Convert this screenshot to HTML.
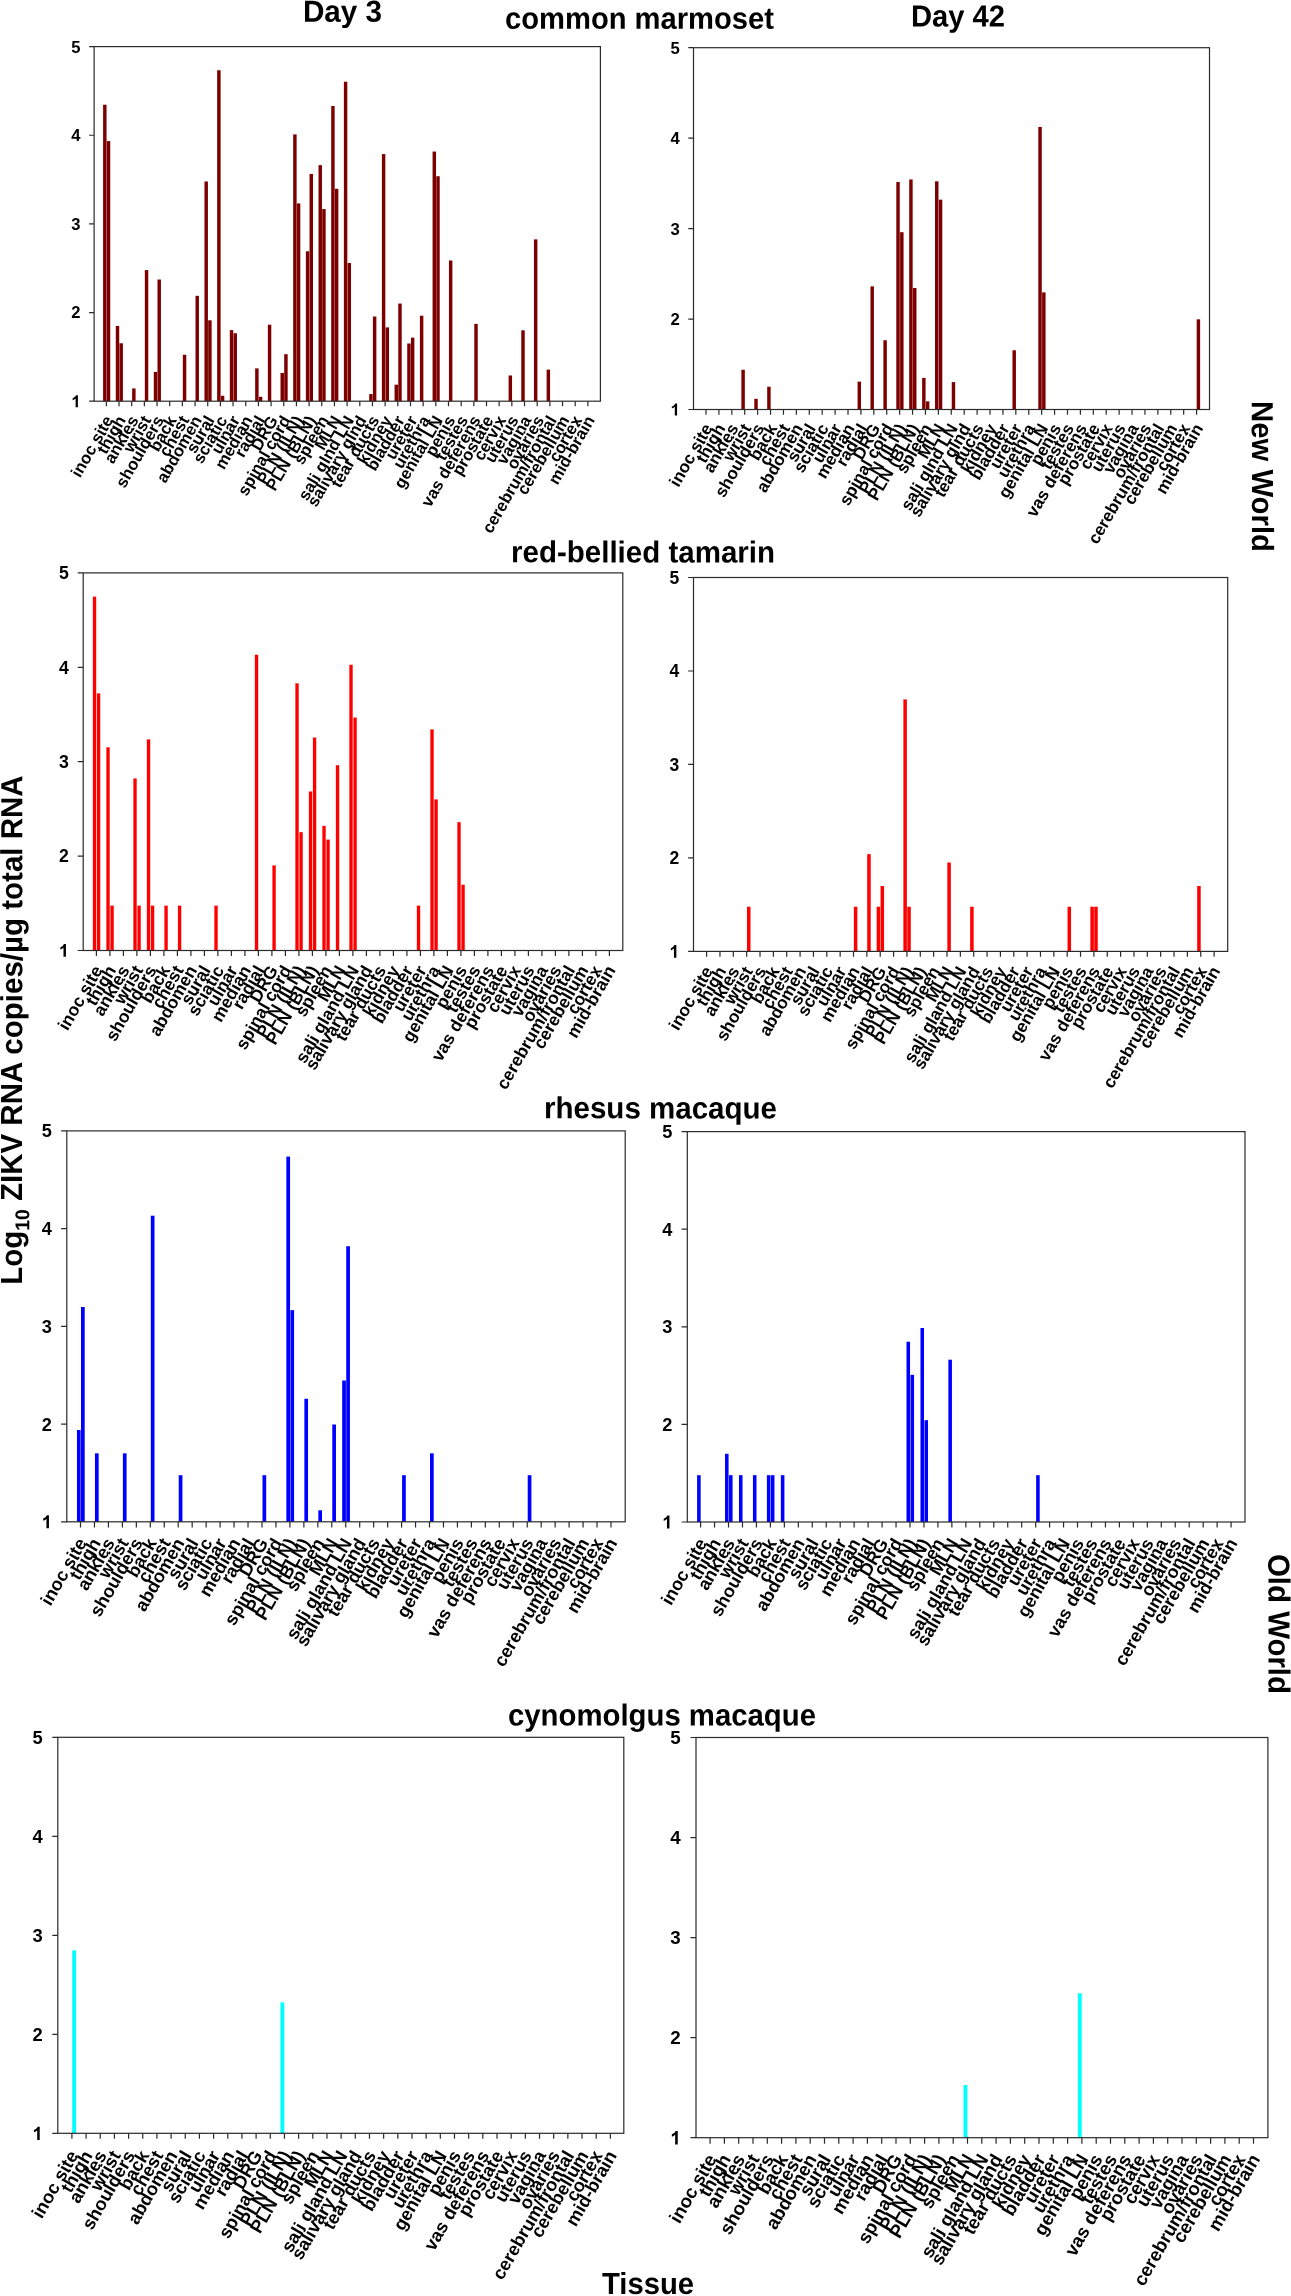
<!DOCTYPE html>
<html><head><meta charset="utf-8"><title>ZIKV tissue RNA</title>
<style>html,body{margin:0;padding:0;background:#fff;}svg{display:block;}#fig{width:1291px;height:2296px;will-change:transform;}</style>
</head><body>
<div id="fig">
<svg width="1291" height="2296" viewBox="0 0 1291 2296" font-family="'Liberation Sans', sans-serif">
<g id="panel1">
<g fill="#7d0000">
<rect x="103.1" y="104.72" width="3.45" height="296.48"/>
<rect x="106.8" y="141.1" width="3.45" height="260.1"/>
<rect x="115.77" y="325.93" width="3.45" height="75.27"/>
<rect x="119.47" y="343.28" width="3.45" height="57.92"/>
<rect x="132.14" y="388.45" width="3.45" height="12.75"/>
<rect x="144.82" y="270.11" width="3.45" height="131.09"/>
<rect x="153.79" y="371.93" width="3.45" height="29.27"/>
<rect x="157.49" y="279.52" width="3.45" height="121.68"/>
<rect x="182.83" y="354.78" width="3.45" height="46.42"/>
<rect x="195.5" y="295.82" width="3.45" height="105.38"/>
<rect x="204.48" y="181.46" width="3.45" height="219.74"/>
<rect x="208.18" y="320.29" width="3.45" height="80.91"/>
<rect x="217.15" y="70.23" width="3.45" height="330.97"/>
<rect x="220.85" y="395.76" width="3.45" height="5.44"/>
<rect x="229.82" y="330.11" width="3.45" height="71.09"/>
<rect x="233.52" y="333.25" width="3.45" height="67.95"/>
<rect x="255.16" y="368.37" width="3.45" height="32.83"/>
<rect x="258.86" y="396.81" width="3.45" height="4.39"/>
<rect x="267.84" y="324.68" width="3.45" height="76.52"/>
<rect x="280.51" y="372.97" width="3.45" height="28.23"/>
<rect x="284.21" y="354.16" width="3.45" height="47.04"/>
<rect x="293.18" y="134.41" width="3.45" height="266.79"/>
<rect x="296.88" y="203.41" width="3.45" height="197.79"/>
<rect x="305.85" y="251.29" width="3.45" height="149.91"/>
<rect x="309.55" y="173.93" width="3.45" height="227.27"/>
<rect x="318.52" y="165.15" width="3.45" height="236.05"/>
<rect x="322.22" y="209.06" width="3.45" height="192.14"/>
<rect x="331.2" y="105.98" width="3.45" height="295.22"/>
<rect x="334.9" y="188.77" width="3.45" height="212.43"/>
<rect x="343.87" y="81.73" width="3.45" height="319.47"/>
<rect x="347.57" y="263" width="3.45" height="138.2"/>
<rect x="369.21" y="394.09" width="3.45" height="7.11"/>
<rect x="372.91" y="316.52" width="3.45" height="84.68"/>
<rect x="381.88" y="154.07" width="3.45" height="247.13"/>
<rect x="385.58" y="327.39" width="3.45" height="73.81"/>
<rect x="394.56" y="384.68" width="3.45" height="16.52"/>
<rect x="398.26" y="303.56" width="3.45" height="97.64"/>
<rect x="407.23" y="343.49" width="3.45" height="57.71"/>
<rect x="410.93" y="337.64" width="3.45" height="63.56"/>
<rect x="419.9" y="315.69" width="3.45" height="85.51"/>
<rect x="432.57" y="151.56" width="3.45" height="249.64"/>
<rect x="436.27" y="176.23" width="3.45" height="224.97"/>
<rect x="448.94" y="260.49" width="3.45" height="140.71"/>
<rect x="474.29" y="323.84" width="3.45" height="77.36"/>
<rect x="508.6" y="375.48" width="3.45" height="25.72"/>
<rect x="521.28" y="330.32" width="3.45" height="70.88"/>
<rect x="533.95" y="239.37" width="3.45" height="161.83"/>
<rect x="546.62" y="369.63" width="3.45" height="31.57"/>
</g>
<rect x="94.1" y="46.6" width="506.3" height="354.6" fill="none" stroke="#2a2a2a" stroke-width="1.2"/>
<path d="M89.1 401.2h5M89.1 312.55h5M89.1 223.9h5M89.1 135.25h5M89.1 46.6h5M106.35 401.2v5M119.02 401.2v5M131.69 401.2v5M144.37 401.2v5M157.04 401.2v5M169.71 401.2v5M182.38 401.2v5M195.05 401.2v5M207.73 401.2v5M220.4 401.2v5M233.07 401.2v5M245.74 401.2v5M258.41 401.2v5M271.09 401.2v5M283.76 401.2v5M296.43 401.2v5M309.1 401.2v5M321.77 401.2v5M334.45 401.2v5M347.12 401.2v5M359.79 401.2v5M372.46 401.2v5M385.13 401.2v5M397.81 401.2v5M410.48 401.2v5M423.15 401.2v5M435.82 401.2v5M448.49 401.2v5M461.17 401.2v5M473.84 401.2v5M486.51 401.2v5M499.18 401.2v5M511.85 401.2v5M524.53 401.2v5M537.2 401.2v5M549.87 401.2v5M562.54 401.2v5M575.21 401.2v5M587.89 401.2v5" stroke="#2a2a2a" stroke-width="1.2" fill="none"/>
<g font-size="16.6" font-weight="bold" text-anchor="end" fill="#000">
<path transform="translate(71.37 407.14) scale(0.00811 -0.00811)" d="M806 0H525V1059Q371 915 162 846V1101Q272 1137 401 1237.5Q530 1338 578 1472H806Z"/>
<text x="80.6" y="318.49">2</text>
<text x="80.6" y="229.84">3</text>
<text x="80.6" y="141.19">4</text>
<text x="80.6" y="52.54">5</text>
</g>
<g font-size="16.65" font-weight="bold" text-anchor="end" fill="#000" stroke="#000" stroke-width="0">
<text transform="translate(113.75 420) rotate(-60)">inoc site</text>
<text transform="translate(126.42 420) rotate(-60)">thigh</text>
<text transform="translate(139.09 420) rotate(-60)">ankles</text>
<text transform="translate(151.77 420) rotate(-60)">wrist</text>
<text transform="translate(164.44 420) rotate(-60)">shoulders</text>
<text transform="translate(177.11 420) rotate(-60)">back</text>
<text transform="translate(189.78 420) rotate(-60)">chest</text>
<text transform="translate(202.45 420) rotate(-60)">abdomen</text>
<text transform="translate(215.13 420) rotate(-60)">sural</text>
<text transform="translate(227.8 420) rotate(-60)">sciatic</text>
<text transform="translate(240.47 420) rotate(-60)">ulnar</text>
<text transform="translate(253.14 420) rotate(-60)">median</text>
<text transform="translate(265.81 420) rotate(-60)">radial</text>
<text transform="translate(278.49 420) rotate(-60)">DRG</text>
<text transform="translate(291.16 420) rotate(-60)">spinal cord</text>
<text transform="translate(303.83 420) rotate(-60)">PLN (ILN)</text>
<text transform="translate(316.5 420) rotate(-60)">PLN (BLN)</text>
<text transform="translate(329.17 420) rotate(-60)">spleen</text>
<text transform="translate(341.85 420) rotate(-60)">MLN</text>
<text transform="translate(354.52 420) rotate(-60)">sali glnd LN</text>
<text transform="translate(367.19 420) rotate(-60)">salivary glnd</text>
<text transform="translate(379.86 420) rotate(-60)">tear ducts</text>
<text transform="translate(392.53 420) rotate(-60)">kidney</text>
<text transform="translate(405.21 420) rotate(-60)">bladder</text>
<text transform="translate(417.88 420) rotate(-60)">ureter</text>
<text transform="translate(430.55 420) rotate(-60)">urethra</text>
<text transform="translate(443.22 420) rotate(-60)">genital LN</text>
<text transform="translate(455.89 420) rotate(-60)">penis</text>
<text transform="translate(468.57 420) rotate(-60)">testes</text>
<text transform="translate(481.24 420) rotate(-60)">vas deferens</text>
<text transform="translate(493.91 420) rotate(-60)">prostate</text>
<text transform="translate(506.58 420) rotate(-60)">cervix</text>
<text transform="translate(519.25 420) rotate(-60)">uterus</text>
<text transform="translate(531.93 420) rotate(-60)">vagina</text>
<text transform="translate(544.6 420) rotate(-60)">ovaries</text>
<text transform="translate(557.27 420) rotate(-60)">cerebrum/frontal</text>
<text transform="translate(569.94 420) rotate(-60)">cerebellum</text>
<text transform="translate(582.61 420) rotate(-60)">cortex</text>
<text transform="translate(595.29 420) rotate(-60)">mid-brain</text>
</g>
</g>
<g id="panel2">
<g fill="#7d0000">
<rect x="741.38" y="369.76" width="3.45" height="39.74"/>
<rect x="754.29" y="398.81" width="3.45" height="10.69"/>
<rect x="767.2" y="386.73" width="3.45" height="22.77"/>
<rect x="857.57" y="381.62" width="3.45" height="27.88"/>
<rect x="870.48" y="286.34" width="3.45" height="123.16"/>
<rect x="883.39" y="340.25" width="3.45" height="69.25"/>
<rect x="896.3" y="182.01" width="3.45" height="227.49"/>
<rect x="900.1" y="232.2" width="3.45" height="177.3"/>
<rect x="909.21" y="179.45" width="3.45" height="230.05"/>
<rect x="913.01" y="287.97" width="3.45" height="121.53"/>
<rect x="922.12" y="377.9" width="3.45" height="31.6"/>
<rect x="925.92" y="401.37" width="3.45" height="8.13"/>
<rect x="935.03" y="181.31" width="3.45" height="228.19"/>
<rect x="938.83" y="199.67" width="3.45" height="209.83"/>
<rect x="951.74" y="382.08" width="3.45" height="27.42"/>
<rect x="1012.49" y="350.25" width="3.45" height="59.25"/>
<rect x="1038.31" y="126.94" width="3.45" height="282.56"/>
<rect x="1042.11" y="292.39" width="3.45" height="117.11"/>
<rect x="1196.68" y="319.34" width="3.45" height="90.16"/>
</g>
<rect x="693.5" y="47.7" width="516" height="361.8" fill="none" stroke="#2a2a2a" stroke-width="1.2"/>
<path d="M688.3 409.5h5.2M688.3 319.05h5.2M688.3 228.6h5.2M688.3 138.15h5.2M688.3 47.7h5.2M706 409.5v5.2M718.91 409.5v5.2M731.82 409.5v5.2M744.73 409.5v5.2M757.64 409.5v5.2M770.55 409.5v5.2M783.46 409.5v5.2M796.37 409.5v5.2M809.28 409.5v5.2M822.19 409.5v5.2M835.1 409.5v5.2M848.01 409.5v5.2M860.92 409.5v5.2M873.83 409.5v5.2M886.74 409.5v5.2M899.65 409.5v5.2M912.56 409.5v5.2M925.47 409.5v5.2M938.38 409.5v5.2M951.29 409.5v5.2M964.2 409.5v5.2M977.11 409.5v5.2M990.02 409.5v5.2M1002.93 409.5v5.2M1015.84 409.5v5.2M1028.75 409.5v5.2M1041.66 409.5v5.2M1054.57 409.5v5.2M1067.48 409.5v5.2M1080.39 409.5v5.2M1093.3 409.5v5.2M1106.21 409.5v5.2M1119.12 409.5v5.2M1132.03 409.5v5.2M1144.94 409.5v5.2M1157.85 409.5v5.2M1170.76 409.5v5.2M1183.67 409.5v5.2M1196.58 409.5v5.2" stroke="#2a2a2a" stroke-width="1.2" fill="none"/>
<g font-size="16.7" font-weight="bold" text-anchor="end" fill="#000">
<path transform="translate(670.51 415.48) scale(0.00815 -0.00815)" d="M806 0H525V1059Q371 915 162 846V1101Q272 1137 401 1237.5Q530 1338 578 1472H806Z"/>
<text x="679.8" y="325.03">2</text>
<text x="679.8" y="234.58">3</text>
<text x="679.8" y="144.13">4</text>
<text x="679.8" y="53.68">5</text>
</g>
<g font-size="17.05" font-weight="bold" text-anchor="end" fill="#000" stroke="#000" stroke-width="0">
<text transform="translate(713.1 428.1) rotate(-60)">inoc site</text>
<text transform="translate(726.01 428.1) rotate(-60)">thigh</text>
<text transform="translate(738.92 428.1) rotate(-60)">ankles</text>
<text transform="translate(751.83 428.1) rotate(-60)">wrist</text>
<text transform="translate(764.74 428.1) rotate(-60)">shoulders</text>
<text transform="translate(777.65 428.1) rotate(-60)">back</text>
<text transform="translate(790.56 428.1) rotate(-60)">chest</text>
<text transform="translate(803.47 428.1) rotate(-60)">abdomen</text>
<text transform="translate(816.38 428.1) rotate(-60)">sural</text>
<text transform="translate(829.29 428.1) rotate(-60)">sciatic</text>
<text transform="translate(842.2 428.1) rotate(-60)">ulnar</text>
<text transform="translate(855.11 428.1) rotate(-60)">median</text>
<text transform="translate(868.02 428.1) rotate(-60)">radial</text>
<text transform="translate(880.93 428.1) rotate(-60)">DRG</text>
<text transform="translate(893.84 428.1) rotate(-60)">spinal cord</text>
<text transform="translate(906.75 428.1) rotate(-60)">PLN (ILN)</text>
<text transform="translate(919.66 428.1) rotate(-60)">PLN (BLN)</text>
<text transform="translate(932.57 428.1) rotate(-60)">spleen</text>
<text transform="translate(945.48 428.1) rotate(-60)">MLN</text>
<text transform="translate(958.39 428.1) rotate(-60)">sali glnd LN</text>
<text transform="translate(971.3 428.1) rotate(-60)">salivary glnd</text>
<text transform="translate(984.21 428.1) rotate(-60)">tear ducts</text>
<text transform="translate(997.12 428.1) rotate(-60)">kidney</text>
<text transform="translate(1010.03 428.1) rotate(-60)">bladder</text>
<text transform="translate(1022.94 428.1) rotate(-60)">ureter</text>
<text transform="translate(1035.85 428.1) rotate(-60)">urethra</text>
<text transform="translate(1048.76 428.1) rotate(-60)">genital LN</text>
<text transform="translate(1061.67 428.1) rotate(-60)">penis</text>
<text transform="translate(1074.58 428.1) rotate(-60)">testes</text>
<text transform="translate(1087.49 428.1) rotate(-60)">vas deferens</text>
<text transform="translate(1100.4 428.1) rotate(-60)">prostate</text>
<text transform="translate(1113.31 428.1) rotate(-60)">cervix</text>
<text transform="translate(1126.22 428.1) rotate(-60)">uterus</text>
<text transform="translate(1139.13 428.1) rotate(-60)">vagina</text>
<text transform="translate(1152.04 428.1) rotate(-60)">ovaries</text>
<text transform="translate(1164.95 428.1) rotate(-60)">cerebrum/frontal</text>
<text transform="translate(1177.86 428.1) rotate(-60)">cerebellum</text>
<text transform="translate(1190.77 428.1) rotate(-60)">cortex</text>
<text transform="translate(1203.68 428.1) rotate(-60)">mid-brain</text>
</g>
</g>
<g id="panel3">
<g fill="#ff0000">
<rect x="92.85" y="596.62" width="3.35" height="353.88"/>
<rect x="96.9" y="693.34" width="3.35" height="257.16"/>
<rect x="106.35" y="747.28" width="3.35" height="203.22"/>
<rect x="110.4" y="905.63" width="3.35" height="44.87"/>
<rect x="133.35" y="778.44" width="3.35" height="172.06"/>
<rect x="137.4" y="905.63" width="3.35" height="44.87"/>
<rect x="146.85" y="739.38" width="3.35" height="211.12"/>
<rect x="150.9" y="905.63" width="3.35" height="44.87"/>
<rect x="164.4" y="905.63" width="3.35" height="44.87"/>
<rect x="177.9" y="905.63" width="3.35" height="44.87"/>
<rect x="214.35" y="905.63" width="3.35" height="44.87"/>
<rect x="254.85" y="654.74" width="3.35" height="295.76"/>
<rect x="272.4" y="865.4" width="3.35" height="85.1"/>
<rect x="295.35" y="683.34" width="3.35" height="267.16"/>
<rect x="299.4" y="832.15" width="3.35" height="118.35"/>
<rect x="308.85" y="791.46" width="3.35" height="159.04"/>
<rect x="312.9" y="737.52" width="3.35" height="212.98"/>
<rect x="322.35" y="825.87" width="3.35" height="124.63"/>
<rect x="326.4" y="839.59" width="3.35" height="110.91"/>
<rect x="335.85" y="765.19" width="3.35" height="185.31"/>
<rect x="349.35" y="664.74" width="3.35" height="285.76"/>
<rect x="353.4" y="717.52" width="3.35" height="232.98"/>
<rect x="416.85" y="905.63" width="3.35" height="44.87"/>
<rect x="430.35" y="729.38" width="3.35" height="221.12"/>
<rect x="434.4" y="799.37" width="3.35" height="151.13"/>
<rect x="457.35" y="822.15" width="3.35" height="128.35"/>
<rect x="461.4" y="884.7" width="3.35" height="65.8"/>
</g>
<rect x="83.2" y="572.9" width="539.6" height="377.6" fill="none" stroke="#2a2a2a" stroke-width="1.2"/>
<path d="M77.7 950.5h5.5M77.7 856.1h5.5M77.7 761.7h5.5M77.7 667.3h5.5M77.7 572.9h5.5M96.4 950.5v5.4M109.9 950.5v5.4M123.4 950.5v5.4M136.9 950.5v5.4M150.4 950.5v5.4M163.9 950.5v5.4M177.4 950.5v5.4M190.9 950.5v5.4M204.4 950.5v5.4M217.9 950.5v5.4M231.4 950.5v5.4M244.9 950.5v5.4M258.4 950.5v5.4M271.9 950.5v5.4M285.4 950.5v5.4M298.9 950.5v5.4M312.4 950.5v5.4M325.9 950.5v5.4M339.4 950.5v5.4M352.9 950.5v5.4M366.4 950.5v5.4M379.9 950.5v5.4M393.4 950.5v5.4M406.9 950.5v5.4M420.4 950.5v5.4M433.9 950.5v5.4M447.4 950.5v5.4M460.9 950.5v5.4M474.4 950.5v5.4M487.9 950.5v5.4M501.4 950.5v5.4M514.9 950.5v5.4M528.4 950.5v5.4M541.9 950.5v5.4M555.4 950.5v5.4M568.9 950.5v5.4M582.4 950.5v5.4M595.9 950.5v5.4M609.4 950.5v5.4" stroke="#2a2a2a" stroke-width="1.2" fill="none"/>
<g font-size="17.7" font-weight="bold" text-anchor="end" fill="#000">
<path transform="translate(58.96 956.84) scale(0.00864 -0.00864)" d="M806 0H525V1059Q371 915 162 846V1101Q272 1137 401 1237.5Q530 1338 578 1472H806Z"/>
<text x="68.8" y="862.44">2</text>
<text x="68.8" y="768.04">3</text>
<text x="68.8" y="673.64">4</text>
<text x="68.8" y="579.24">5</text>
</g>
<g font-size="17.55" font-weight="bold" text-anchor="end" fill="#000" stroke="#000" stroke-width="0">
<text transform="translate(103.1 970) rotate(-60)">inoc site</text>
<text transform="translate(116.6 970) rotate(-60)">thigh</text>
<text transform="translate(130.1 970) rotate(-60)">ankles</text>
<text transform="translate(143.6 970) rotate(-60)">wrist</text>
<text transform="translate(157.1 970) rotate(-60)">shoulders</text>
<text transform="translate(170.6 970) rotate(-60)">back</text>
<text transform="translate(184.1 970) rotate(-60)">chest</text>
<text transform="translate(197.6 970) rotate(-60)">abdomen</text>
<text transform="translate(211.1 970) rotate(-60)">sural</text>
<text transform="translate(224.6 970) rotate(-60)">sciatic</text>
<text transform="translate(238.1 970) rotate(-60)">ulnar</text>
<text transform="translate(251.6 970) rotate(-60)">median</text>
<text transform="translate(265.1 970) rotate(-60)">radial</text>
<text transform="translate(278.6 970) rotate(-60)">DRG</text>
<text transform="translate(292.1 970) rotate(-60)">spinal cord</text>
<text transform="translate(305.6 970) rotate(-60)">PLN (ILN)</text>
<text transform="translate(319.1 970) rotate(-60)">PLN (BLN)</text>
<text transform="translate(332.6 970) rotate(-60)">spleen</text>
<text transform="translate(346.1 970) rotate(-60)">MLN</text>
<text transform="translate(359.6 970) rotate(-60)">sali gland LN</text>
<text transform="translate(373.1 970) rotate(-60)">salivary gland</text>
<text transform="translate(386.6 970) rotate(-60)">tear ducts</text>
<text transform="translate(400.1 970) rotate(-60)">kidney</text>
<text transform="translate(413.6 970) rotate(-60)">bladder</text>
<text transform="translate(427.1 970) rotate(-60)">ureter</text>
<text transform="translate(440.6 970) rotate(-60)">urethra</text>
<text transform="translate(454.1 970) rotate(-60)">genital LN</text>
<text transform="translate(467.6 970) rotate(-60)">penis</text>
<text transform="translate(481.1 970) rotate(-60)">testes</text>
<text transform="translate(494.6 970) rotate(-60)">vas deferens</text>
<text transform="translate(508.1 970) rotate(-60)">prostate</text>
<text transform="translate(521.6 970) rotate(-60)">cervix</text>
<text transform="translate(535.1 970) rotate(-60)">uterus</text>
<text transform="translate(548.6 970) rotate(-60)">vagina</text>
<text transform="translate(562.1 970) rotate(-60)">ovaries</text>
<text transform="translate(575.6 970) rotate(-60)">cerebrum/frontal</text>
<text transform="translate(589.1 970) rotate(-60)">cerebellum</text>
<text transform="translate(602.6 970) rotate(-60)">cortex</text>
<text transform="translate(616.1 970) rotate(-60)">mid-brain</text>
</g>
</g>
<g id="panel4">
<g fill="#ff0000">
<rect x="747.01" y="906.73" width="3.5" height="44.67"/>
<rect x="853.86" y="906.73" width="3.5" height="44.67"/>
<rect x="867.21" y="854.14" width="3.5" height="97.26"/>
<rect x="876.67" y="906.73" width="3.5" height="44.67"/>
<rect x="880.57" y="886.02" width="3.5" height="65.38"/>
<rect x="903.38" y="699.42" width="3.5" height="251.98"/>
<rect x="907.28" y="906.73" width="3.5" height="44.67"/>
<rect x="947.34" y="862.52" width="3.5" height="88.88"/>
<rect x="970.15" y="906.73" width="3.5" height="44.67"/>
<rect x="1067.53" y="906.73" width="3.5" height="44.67"/>
<rect x="1090.35" y="906.73" width="3.5" height="44.67"/>
<rect x="1094.24" y="906.73" width="3.5" height="44.67"/>
<rect x="1197.19" y="886.02" width="3.5" height="65.38"/>
</g>
<rect x="693.5" y="577.5" width="534.2" height="373.9" fill="none" stroke="#2a2a2a" stroke-width="1.2"/>
<path d="M688.1 951.4h5.4M688.1 857.92h5.4M688.1 764.45h5.4M688.1 670.98h5.4M688.1 577.5h5.4M706.6 951.4v5.4M719.96 951.4v5.4M733.31 951.4v5.4M746.66 951.4v5.4M760.02 951.4v5.4M773.38 951.4v5.4M786.73 951.4v5.4M800.09 951.4v5.4M813.44 951.4v5.4M826.8 951.4v5.4M840.15 951.4v5.4M853.5 951.4v5.4M866.86 951.4v5.4M880.22 951.4v5.4M893.57 951.4v5.4M906.93 951.4v5.4M920.28 951.4v5.4M933.63 951.4v5.4M946.99 951.4v5.4M960.35 951.4v5.4M973.7 951.4v5.4M987.06 951.4v5.4M1000.41 951.4v5.4M1013.77 951.4v5.4M1027.12 951.4v5.4M1040.47 951.4v5.4M1053.83 951.4v5.4M1067.18 951.4v5.4M1080.54 951.4v5.4M1093.89 951.4v5.4M1107.25 951.4v5.4M1120.61 951.4v5.4M1133.96 951.4v5.4M1147.32 951.4v5.4M1160.67 951.4v5.4M1174.03 951.4v5.4M1187.38 951.4v5.4M1200.74 951.4v5.4M1214.09 951.4v5.4" stroke="#2a2a2a" stroke-width="1.2" fill="none"/>
<g font-size="17.5" font-weight="bold" text-anchor="end" fill="#000">
<path transform="translate(669.47 957.66) scale(0.00854 -0.00854)" d="M806 0H525V1059Q371 915 162 846V1101Q272 1137 401 1237.5Q530 1338 578 1472H806Z"/>
<text x="679.2" y="864.19">2</text>
<text x="679.2" y="770.72">3</text>
<text x="679.2" y="677.24">4</text>
<text x="679.2" y="583.76">5</text>
</g>
<g font-size="17.25" font-weight="bold" text-anchor="end" fill="#000" stroke="#000" stroke-width="0">
<text transform="translate(713.3 970.9) rotate(-60)">inoc site</text>
<text transform="translate(726.66 970.9) rotate(-60)">thigh</text>
<text transform="translate(740.01 970.9) rotate(-60)">ankles</text>
<text transform="translate(753.37 970.9) rotate(-60)">wrist</text>
<text transform="translate(766.72 970.9) rotate(-60)">shoulders</text>
<text transform="translate(780.08 970.9) rotate(-60)">back</text>
<text transform="translate(793.43 970.9) rotate(-60)">chest</text>
<text transform="translate(806.79 970.9) rotate(-60)">abdomen</text>
<text transform="translate(820.14 970.9) rotate(-60)">sural</text>
<text transform="translate(833.5 970.9) rotate(-60)">sciatic</text>
<text transform="translate(846.85 970.9) rotate(-60)">ulnar</text>
<text transform="translate(860.21 970.9) rotate(-60)">median</text>
<text transform="translate(873.56 970.9) rotate(-60)">radial</text>
<text transform="translate(886.92 970.9) rotate(-60)">DRG</text>
<text transform="translate(900.27 970.9) rotate(-60)">spinal cord</text>
<text transform="translate(913.63 970.9) rotate(-60)">PLN (ILN)</text>
<text transform="translate(926.98 970.9) rotate(-60)">PLN (BLN)</text>
<text transform="translate(940.34 970.9) rotate(-60)">spleen</text>
<text transform="translate(953.69 970.9) rotate(-60)">MLN</text>
<text transform="translate(967.05 970.9) rotate(-60)">sali gland LN</text>
<text transform="translate(980.4 970.9) rotate(-60)">salivary gland</text>
<text transform="translate(993.76 970.9) rotate(-60)">tear ducts</text>
<text transform="translate(1007.11 970.9) rotate(-60)">kidney</text>
<text transform="translate(1020.47 970.9) rotate(-60)">bladder</text>
<text transform="translate(1033.82 970.9) rotate(-60)">ureter</text>
<text transform="translate(1047.17 970.9) rotate(-60)">urethra</text>
<text transform="translate(1060.53 970.9) rotate(-60)">genital LN</text>
<text transform="translate(1073.88 970.9) rotate(-60)">penis</text>
<text transform="translate(1087.24 970.9) rotate(-60)">testes</text>
<text transform="translate(1100.6 970.9) rotate(-60)">vas deferens</text>
<text transform="translate(1113.95 970.9) rotate(-60)">prostate</text>
<text transform="translate(1127.31 970.9) rotate(-60)">cervix</text>
<text transform="translate(1140.66 970.9) rotate(-60)">uterus</text>
<text transform="translate(1154.02 970.9) rotate(-60)">vagina</text>
<text transform="translate(1167.37 970.9) rotate(-60)">ovaries</text>
<text transform="translate(1180.73 970.9) rotate(-60)">cerebrum/frontal</text>
<text transform="translate(1194.08 970.9) rotate(-60)">cerebellum</text>
<text transform="translate(1207.44 970.9) rotate(-60)">cortex</text>
<text transform="translate(1220.79 970.9) rotate(-60)">mid-brain</text>
</g>
</g>
<g id="panel5">
<g fill="#0000ff">
<rect x="76.95" y="1430.02" width="3.7" height="91.78"/>
<rect x="81" y="1307.01" width="3.7" height="214.79"/>
<rect x="94.96" y="1453.33" width="3.7" height="68.47"/>
<rect x="122.88" y="1453.33" width="3.7" height="68.47"/>
<rect x="150.8" y="1215.71" width="3.7" height="306.09"/>
<rect x="178.72" y="1475.19" width="3.7" height="46.61"/>
<rect x="262.48" y="1475.19" width="3.7" height="46.61"/>
<rect x="286.35" y="1156.61" width="3.7" height="365.19"/>
<rect x="290.4" y="1310.13" width="3.7" height="211.67"/>
<rect x="304.36" y="1398.79" width="3.7" height="123.01"/>
<rect x="318.32" y="1510.27" width="3.7" height="11.53"/>
<rect x="332.28" y="1424.5" width="3.7" height="97.3"/>
<rect x="342.19" y="1380.53" width="3.7" height="141.27"/>
<rect x="346.24" y="1246.22" width="3.7" height="275.58"/>
<rect x="402.08" y="1475.19" width="3.7" height="46.61"/>
<rect x="430" y="1453.33" width="3.7" height="68.47"/>
<rect x="527.72" y="1475.19" width="3.7" height="46.61"/>
</g>
<rect x="66.8" y="1130.9" width="558.4" height="390.9" fill="none" stroke="#2a2a2a" stroke-width="1.2"/>
<path d="M61.1 1521.8h5.7M61.1 1424.08h5.7M61.1 1326.35h5.7M61.1 1228.62h5.7M61.1 1130.9h5.7M80.5 1521.8v5.6M94.46 1521.8v5.6M108.42 1521.8v5.6M122.38 1521.8v5.6M136.34 1521.8v5.6M150.3 1521.8v5.6M164.26 1521.8v5.6M178.22 1521.8v5.6M192.18 1521.8v5.6M206.14 1521.8v5.6M220.1 1521.8v5.6M234.06 1521.8v5.6M248.02 1521.8v5.6M261.98 1521.8v5.6M275.94 1521.8v5.6M289.9 1521.8v5.6M303.86 1521.8v5.6M317.82 1521.8v5.6M331.78 1521.8v5.6M345.74 1521.8v5.6M359.7 1521.8v5.6M373.66 1521.8v5.6M387.62 1521.8v5.6M401.58 1521.8v5.6M415.54 1521.8v5.6M429.5 1521.8v5.6M443.46 1521.8v5.6M457.42 1521.8v5.6M471.38 1521.8v5.6M485.34 1521.8v5.6M499.3 1521.8v5.6M513.26 1521.8v5.6M527.22 1521.8v5.6M541.18 1521.8v5.6M555.14 1521.8v5.6M569.1 1521.8v5.6M583.06 1521.8v5.6M597.02 1521.8v5.6M610.98 1521.8v5.6" stroke="#2a2a2a" stroke-width="1.2" fill="none"/>
<g font-size="18.2" font-weight="bold" text-anchor="end" fill="#000">
<path transform="translate(41.78 1528.32) scale(0.00889 -0.00889)" d="M806 0H525V1059Q371 915 162 846V1101Q272 1137 401 1237.5Q530 1338 578 1472H806Z"/>
<text x="51.9" y="1430.59">2</text>
<text x="51.9" y="1332.87">3</text>
<text x="51.9" y="1235.14">4</text>
<text x="51.9" y="1137.42">5</text>
</g>
<g font-size="18.2" font-weight="bold" text-anchor="end" fill="#000" stroke="#000" stroke-width="0">
<text transform="translate(87.4 1542.8) rotate(-60)">inoc site</text>
<text transform="translate(101.36 1542.8) rotate(-60)">thigh</text>
<text transform="translate(115.32 1542.8) rotate(-60)">ankles</text>
<text transform="translate(129.28 1542.8) rotate(-60)">wrist</text>
<text transform="translate(143.24 1542.8) rotate(-60)">shoulders</text>
<text transform="translate(157.2 1542.8) rotate(-60)">back</text>
<text transform="translate(171.16 1542.8) rotate(-60)">chest</text>
<text transform="translate(185.12 1542.8) rotate(-60)">abdomen</text>
<text transform="translate(199.08 1542.8) rotate(-60)">sural</text>
<text transform="translate(213.04 1542.8) rotate(-60)">sciatic</text>
<text transform="translate(227 1542.8) rotate(-60)">ulnar</text>
<text transform="translate(240.96 1542.8) rotate(-60)">median</text>
<text transform="translate(254.92 1542.8) rotate(-60)">radial</text>
<text transform="translate(268.88 1542.8) rotate(-60)">DRG</text>
<text transform="translate(282.84 1542.8) rotate(-60)">spinal cord</text>
<text transform="translate(296.8 1542.8) rotate(-60)">PLN (ILN)</text>
<text transform="translate(310.76 1542.8) rotate(-60)">PLN (BLN)</text>
<text transform="translate(324.72 1542.8) rotate(-60)">spleen</text>
<text transform="translate(338.68 1542.8) rotate(-60)">MLN</text>
<text transform="translate(352.64 1542.8) rotate(-60)">sali gland LN</text>
<text transform="translate(366.6 1542.8) rotate(-60)">salivary gland</text>
<text transform="translate(380.56 1542.8) rotate(-60)">tear ducts</text>
<text transform="translate(394.52 1542.8) rotate(-60)">kidney</text>
<text transform="translate(408.48 1542.8) rotate(-60)">bladder</text>
<text transform="translate(422.44 1542.8) rotate(-60)">ureter</text>
<text transform="translate(436.4 1542.8) rotate(-60)">urethra</text>
<text transform="translate(450.36 1542.8) rotate(-60)">genital LN</text>
<text transform="translate(464.32 1542.8) rotate(-60)">penis</text>
<text transform="translate(478.28 1542.8) rotate(-60)">testes</text>
<text transform="translate(492.24 1542.8) rotate(-60)">vas deferens</text>
<text transform="translate(506.2 1542.8) rotate(-60)">prostate</text>
<text transform="translate(520.16 1542.8) rotate(-60)">cervix</text>
<text transform="translate(534.12 1542.8) rotate(-60)">uterus</text>
<text transform="translate(548.08 1542.8) rotate(-60)">vagina</text>
<text transform="translate(562.04 1542.8) rotate(-60)">ovaries</text>
<text transform="translate(576 1542.8) rotate(-60)">cerebrum/frontal</text>
<text transform="translate(589.96 1542.8) rotate(-60)">cerebellum</text>
<text transform="translate(603.92 1542.8) rotate(-60)">cortex</text>
<text transform="translate(617.88 1542.8) rotate(-60)">mid-brain</text>
</g>
</g>
<g id="panel6">
<g fill="#0000ff">
<rect x="697.1" y="1475.18" width="3.55" height="46.82"/>
<rect x="725.02" y="1453.81" width="3.55" height="68.19"/>
<rect x="729.02" y="1475.18" width="3.55" height="46.82"/>
<rect x="738.98" y="1475.18" width="3.55" height="46.82"/>
<rect x="752.94" y="1475.18" width="3.55" height="46.82"/>
<rect x="766.9" y="1475.18" width="3.55" height="46.82"/>
<rect x="770.9" y="1475.18" width="3.55" height="46.82"/>
<rect x="780.86" y="1475.18" width="3.55" height="46.82"/>
<rect x="906.5" y="1341.69" width="3.55" height="180.31"/>
<rect x="910.5" y="1374.82" width="3.55" height="147.18"/>
<rect x="920.46" y="1328" width="3.55" height="194"/>
<rect x="924.46" y="1420.2" width="3.55" height="101.8"/>
<rect x="948.38" y="1359.69" width="3.55" height="162.31"/>
<rect x="1036.14" y="1475.18" width="3.55" height="46.82"/>
</g>
<rect x="687.3" y="1131.6" width="557.7" height="390.4" fill="none" stroke="#2a2a2a" stroke-width="1.2"/>
<path d="M681.6 1522h5.7M681.6 1424.4h5.7M681.6 1326.8h5.7M681.6 1229.2h5.7M681.6 1131.6h5.7M700.6 1522v5.6M714.56 1522v5.6M728.52 1522v5.6M742.48 1522v5.6M756.44 1522v5.6M770.4 1522v5.6M784.36 1522v5.6M798.32 1522v5.6M812.28 1522v5.6M826.24 1522v5.6M840.2 1522v5.6M854.16 1522v5.6M868.12 1522v5.6M882.08 1522v5.6M896.04 1522v5.6M910 1522v5.6M923.96 1522v5.6M937.92 1522v5.6M951.88 1522v5.6M965.84 1522v5.6M979.8 1522v5.6M993.76 1522v5.6M1007.72 1522v5.6M1021.68 1522v5.6M1035.64 1522v5.6M1049.6 1522v5.6M1063.56 1522v5.6M1077.52 1522v5.6M1091.48 1522v5.6M1105.44 1522v5.6M1119.4 1522v5.6M1133.36 1522v5.6M1147.32 1522v5.6M1161.28 1522v5.6M1175.24 1522v5.6M1189.2 1522v5.6M1203.16 1522v5.6M1217.12 1522v5.6M1231.08 1522v5.6" stroke="#2a2a2a" stroke-width="1.2" fill="none"/>
<g font-size="18.2" font-weight="bold" text-anchor="end" fill="#000">
<path transform="translate(662.28 1528.52) scale(0.00889 -0.00889)" d="M806 0H525V1059Q371 915 162 846V1101Q272 1137 401 1237.5Q530 1338 578 1472H806Z"/>
<text x="672.4" y="1430.92">2</text>
<text x="672.4" y="1333.32">3</text>
<text x="672.4" y="1235.72">4</text>
<text x="672.4" y="1138.12">5</text>
</g>
<g font-size="18.05" font-weight="bold" text-anchor="end" fill="#000" stroke="#000" stroke-width="0">
<text transform="translate(707.5 1543) rotate(-60)">inoc site</text>
<text transform="translate(721.46 1543) rotate(-60)">thigh</text>
<text transform="translate(735.42 1543) rotate(-60)">ankles</text>
<text transform="translate(749.38 1543) rotate(-60)">wrist</text>
<text transform="translate(763.34 1543) rotate(-60)">shoulders</text>
<text transform="translate(777.3 1543) rotate(-60)">back</text>
<text transform="translate(791.26 1543) rotate(-60)">chest</text>
<text transform="translate(805.22 1543) rotate(-60)">abdomen</text>
<text transform="translate(819.18 1543) rotate(-60)">sural</text>
<text transform="translate(833.14 1543) rotate(-60)">sciatic</text>
<text transform="translate(847.1 1543) rotate(-60)">ulnar</text>
<text transform="translate(861.06 1543) rotate(-60)">median</text>
<text transform="translate(875.02 1543) rotate(-60)">radial</text>
<text transform="translate(888.98 1543) rotate(-60)">DRG</text>
<text transform="translate(902.94 1543) rotate(-60)">spinal cord</text>
<text transform="translate(916.9 1543) rotate(-60)">PLN (ILN)</text>
<text transform="translate(930.86 1543) rotate(-60)">PLN (BLN)</text>
<text transform="translate(944.82 1543) rotate(-60)">spleen</text>
<text transform="translate(958.78 1543) rotate(-60)">MLN</text>
<text transform="translate(972.74 1543) rotate(-60)">sali gland LN</text>
<text transform="translate(986.7 1543) rotate(-60)">salivary gland</text>
<text transform="translate(1000.66 1543) rotate(-60)">tear ducts</text>
<text transform="translate(1014.62 1543) rotate(-60)">kidney</text>
<text transform="translate(1028.58 1543) rotate(-60)">bladder</text>
<text transform="translate(1042.54 1543) rotate(-60)">ureter</text>
<text transform="translate(1056.5 1543) rotate(-60)">urethra</text>
<text transform="translate(1070.46 1543) rotate(-60)">genital LN</text>
<text transform="translate(1084.42 1543) rotate(-60)">penis</text>
<text transform="translate(1098.38 1543) rotate(-60)">testes</text>
<text transform="translate(1112.34 1543) rotate(-60)">vas deferens</text>
<text transform="translate(1126.3 1543) rotate(-60)">prostate</text>
<text transform="translate(1140.26 1543) rotate(-60)">cervix</text>
<text transform="translate(1154.22 1543) rotate(-60)">uterus</text>
<text transform="translate(1168.18 1543) rotate(-60)">vagina</text>
<text transform="translate(1182.14 1543) rotate(-60)">ovaries</text>
<text transform="translate(1196.1 1543) rotate(-60)">cerebrum/frontal</text>
<text transform="translate(1210.06 1543) rotate(-60)">cerebellum</text>
<text transform="translate(1224.02 1543) rotate(-60)">cortex</text>
<text transform="translate(1237.98 1543) rotate(-60)">mid-brain</text>
</g>
</g>
<g id="panel7">
<g fill="#00ffff">
<rect x="72.2" y="1950.44" width="3.85" height="182.86"/>
<rect x="280.45" y="2002.34" width="3.85" height="130.96"/>
</g>
<rect x="57.8" y="1737.3" width="566" height="396" fill="none" stroke="#2a2a2a" stroke-width="1.2"/>
<path d="M52.3 2133.3h5.5M52.3 2034.3h5.5M52.3 1935.3h5.5M52.3 1836.3h5.5M52.3 1737.3h5.5M71.9 2133.3v5.4M86.07 2133.3v5.4M100.24 2133.3v5.4M114.41 2133.3v5.4M128.58 2133.3v5.4M142.75 2133.3v5.4M156.92 2133.3v5.4M171.09 2133.3v5.4M185.26 2133.3v5.4M199.43 2133.3v5.4M213.6 2133.3v5.4M227.77 2133.3v5.4M241.94 2133.3v5.4M256.11 2133.3v5.4M270.28 2133.3v5.4M284.45 2133.3v5.4M298.62 2133.3v5.4M312.79 2133.3v5.4M326.96 2133.3v5.4M341.13 2133.3v5.4M355.3 2133.3v5.4M369.47 2133.3v5.4M383.64 2133.3v5.4M397.81 2133.3v5.4M411.98 2133.3v5.4M426.15 2133.3v5.4M440.32 2133.3v5.4M454.49 2133.3v5.4M468.66 2133.3v5.4M482.83 2133.3v5.4M497 2133.3v5.4M511.17 2133.3v5.4M525.34 2133.3v5.4M539.51 2133.3v5.4M553.68 2133.3v5.4M567.85 2133.3v5.4M582.02 2133.3v5.4M596.19 2133.3v5.4M610.36 2133.3v5.4" stroke="#2a2a2a" stroke-width="1.2" fill="none"/>
<g font-size="18.4" font-weight="bold" text-anchor="end" fill="#000">
<path transform="translate(32.47 2139.89) scale(0.00898 -0.00898)" d="M806 0H525V1059Q371 915 162 846V1101Q272 1137 401 1237.5Q530 1338 578 1472H806Z"/>
<text x="42.7" y="2040.89">2</text>
<text x="42.7" y="1941.89">3</text>
<text x="42.7" y="1842.89">4</text>
<text x="42.7" y="1743.89">5</text>
</g>
<g font-size="18.3" font-weight="bold" text-anchor="end" fill="#000" stroke="#000" stroke-width="0">
<text transform="translate(78.9 2155.3) rotate(-60)">inoc site</text>
<text transform="translate(93.07 2155.3) rotate(-60)">thigh</text>
<text transform="translate(107.24 2155.3) rotate(-60)">ankles</text>
<text transform="translate(121.41 2155.3) rotate(-60)">wrist</text>
<text transform="translate(135.58 2155.3) rotate(-60)">shoulders</text>
<text transform="translate(149.75 2155.3) rotate(-60)">back</text>
<text transform="translate(163.92 2155.3) rotate(-60)">chest</text>
<text transform="translate(178.09 2155.3) rotate(-60)">abdomen</text>
<text transform="translate(192.26 2155.3) rotate(-60)">sural</text>
<text transform="translate(206.43 2155.3) rotate(-60)">sciatic</text>
<text transform="translate(220.6 2155.3) rotate(-60)">ulnar</text>
<text transform="translate(234.77 2155.3) rotate(-60)">median</text>
<text transform="translate(248.94 2155.3) rotate(-60)">radial</text>
<text transform="translate(263.11 2155.3) rotate(-60)">DRG</text>
<text transform="translate(277.28 2155.3) rotate(-60)">spinal cord</text>
<text transform="translate(291.45 2155.3) rotate(-60)">PLN (ILN)</text>
<text transform="translate(305.62 2155.3) rotate(-60)">PLN (BLN)</text>
<text transform="translate(319.79 2155.3) rotate(-60)">spleen</text>
<text transform="translate(333.96 2155.3) rotate(-60)">MLN</text>
<text transform="translate(348.13 2155.3) rotate(-60)">sali gland LN</text>
<text transform="translate(362.3 2155.3) rotate(-60)">salivary gland</text>
<text transform="translate(376.47 2155.3) rotate(-60)">tear ducts</text>
<text transform="translate(390.64 2155.3) rotate(-60)">kidney</text>
<text transform="translate(404.81 2155.3) rotate(-60)">bladder</text>
<text transform="translate(418.98 2155.3) rotate(-60)">ureter</text>
<text transform="translate(433.15 2155.3) rotate(-60)">urethra</text>
<text transform="translate(447.32 2155.3) rotate(-60)">genital LN</text>
<text transform="translate(461.49 2155.3) rotate(-60)">penis</text>
<text transform="translate(475.66 2155.3) rotate(-60)">testes</text>
<text transform="translate(489.83 2155.3) rotate(-60)">vas deferens</text>
<text transform="translate(504 2155.3) rotate(-60)">prostate</text>
<text transform="translate(518.17 2155.3) rotate(-60)">cervix</text>
<text transform="translate(532.34 2155.3) rotate(-60)">uterus</text>
<text transform="translate(546.51 2155.3) rotate(-60)">vagina</text>
<text transform="translate(560.68 2155.3) rotate(-60)">ovaries</text>
<text transform="translate(574.85 2155.3) rotate(-60)">cerebrum/frontal</text>
<text transform="translate(589.02 2155.3) rotate(-60)">cerebellum</text>
<text transform="translate(603.19 2155.3) rotate(-60)">cortex</text>
<text transform="translate(617.36 2155.3) rotate(-60)">mid-brain</text>
</g>
</g>
<g id="panel8">
<g fill="#00ffff">
<rect x="963.5" y="2085.06" width="3.85" height="52.64"/>
<rect x="1077.9" y="1993.24" width="3.85" height="144.46"/>
</g>
<rect x="696" y="1737.5" width="571.9" height="400.2" fill="none" stroke="#2a2a2a" stroke-width="1.2"/>
<path d="M690.5 2137.7h5.5M690.5 2037.65h5.5M690.5 1937.6h5.5M690.5 1837.55h5.5M690.5 1737.5h5.5M710.1 2137.7v6M724.4 2137.7v6M738.7 2137.7v6M753 2137.7v6M767.3 2137.7v6M781.6 2137.7v6M795.9 2137.7v6M810.2 2137.7v6M824.5 2137.7v6M838.8 2137.7v6M853.1 2137.7v6M867.4 2137.7v6M881.7 2137.7v6M896 2137.7v6M910.3 2137.7v6M924.6 2137.7v6M938.9 2137.7v6M953.2 2137.7v6M967.5 2137.7v6M981.8 2137.7v6M996.1 2137.7v6M1010.4 2137.7v6M1024.7 2137.7v6M1039 2137.7v6M1053.3 2137.7v6M1067.6 2137.7v6M1081.9 2137.7v6M1096.2 2137.7v6M1110.5 2137.7v6M1124.8 2137.7v6M1139.1 2137.7v6M1153.4 2137.7v6M1167.7 2137.7v6M1182 2137.7v6M1196.3 2137.7v6M1210.6 2137.7v6M1224.9 2137.7v6M1239.2 2137.7v6M1253.5 2137.7v6" stroke="#2a2a2a" stroke-width="1.2" fill="none"/>
<g font-size="18.8" font-weight="bold" text-anchor="end" fill="#000">
<path transform="translate(670.34 2144.43) scale(0.00918 -0.00918)" d="M806 0H525V1059Q371 915 162 846V1101Q272 1137 401 1237.5Q530 1338 578 1472H806Z"/>
<text x="680.8" y="2044.38">2</text>
<text x="680.8" y="1944.33">3</text>
<text x="680.8" y="1844.28">4</text>
<text x="680.8" y="1744.23">5</text>
</g>
<g font-size="18.65" font-weight="bold" text-anchor="end" fill="#000" stroke="#000" stroke-width="0">
<text transform="translate(717.2 2158.9) rotate(-60)">inoc site</text>
<text transform="translate(731.5 2158.9) rotate(-60)">thigh</text>
<text transform="translate(745.8 2158.9) rotate(-60)">ankles</text>
<text transform="translate(760.1 2158.9) rotate(-60)">wrist</text>
<text transform="translate(774.4 2158.9) rotate(-60)">shoulders</text>
<text transform="translate(788.7 2158.9) rotate(-60)">back</text>
<text transform="translate(803 2158.9) rotate(-60)">chest</text>
<text transform="translate(817.3 2158.9) rotate(-60)">abdomen</text>
<text transform="translate(831.6 2158.9) rotate(-60)">sural</text>
<text transform="translate(845.9 2158.9) rotate(-60)">sciatic</text>
<text transform="translate(860.2 2158.9) rotate(-60)">ulnar</text>
<text transform="translate(874.5 2158.9) rotate(-60)">median</text>
<text transform="translate(888.8 2158.9) rotate(-60)">radial</text>
<text transform="translate(903.1 2158.9) rotate(-60)">DRG</text>
<text transform="translate(917.4 2158.9) rotate(-60)">spinal cord</text>
<text transform="translate(931.7 2158.9) rotate(-60)">PLN (ILN)</text>
<text transform="translate(946 2158.9) rotate(-60)">PLN (BLN)</text>
<text transform="translate(960.3 2158.9) rotate(-60)">spleen</text>
<text transform="translate(974.6 2158.9) rotate(-60)">MLN</text>
<text transform="translate(988.9 2158.9) rotate(-60)">sali gland LN</text>
<text transform="translate(1003.2 2158.9) rotate(-60)">salivary gland</text>
<text transform="translate(1017.5 2158.9) rotate(-60)">tear ducts</text>
<text transform="translate(1031.8 2158.9) rotate(-60)">kidney</text>
<text transform="translate(1046.1 2158.9) rotate(-60)">bladder</text>
<text transform="translate(1060.4 2158.9) rotate(-60)">ureter</text>
<text transform="translate(1074.7 2158.9) rotate(-60)">urethra</text>
<text transform="translate(1089 2158.9) rotate(-60)">genital LN</text>
<text transform="translate(1103.3 2158.9) rotate(-60)">penis</text>
<text transform="translate(1117.6 2158.9) rotate(-60)">testes</text>
<text transform="translate(1131.9 2158.9) rotate(-60)">vas deferens</text>
<text transform="translate(1146.2 2158.9) rotate(-60)">prostate</text>
<text transform="translate(1160.5 2158.9) rotate(-60)">cervix</text>
<text transform="translate(1174.8 2158.9) rotate(-60)">uterus</text>
<text transform="translate(1189.1 2158.9) rotate(-60)">vagina</text>
<text transform="translate(1203.4 2158.9) rotate(-60)">ovaries</text>
<text transform="translate(1217.7 2158.9) rotate(-60)">cerebrum/frontal</text>
<text transform="translate(1232 2158.9) rotate(-60)">cerebellum</text>
<text transform="translate(1246.3 2158.9) rotate(-60)">cortex</text>
<text transform="translate(1260.6 2158.9) rotate(-60)">mid-brain</text>
</g>
</g>
<g font-weight="bold" fill="#000" font-size="30.5">
<text transform="translate(342.5 21.7) rotate(0.03)" text-anchor="middle" textLength="79.09" lengthAdjust="spacingAndGlyphs">Day 3</text>
<text transform="translate(639.5 28.8) rotate(0.03)" text-anchor="middle" textLength="269" lengthAdjust="spacingAndGlyphs">common marmoset</text>
<text transform="translate(958 26.5) rotate(0.03)" text-anchor="middle" textLength="94.08" lengthAdjust="spacingAndGlyphs">Day 42</text>
<text transform="translate(643 562.4) rotate(0.03)" text-anchor="middle" textLength="264.03" lengthAdjust="spacingAndGlyphs">red-bellied tamarin</text>
<text transform="translate(660.5 1118.4) rotate(0.03)" text-anchor="middle" textLength="233.04" lengthAdjust="spacingAndGlyphs">rhesus macaque</text>
<text transform="translate(662 1725.5) rotate(0.03)" text-anchor="middle" textLength="308.01" lengthAdjust="spacingAndGlyphs">cynomolgus macaque</text>
<text transform="translate(648 2294) rotate(0.03)" text-anchor="middle" textLength="92.02" lengthAdjust="spacingAndGlyphs">Tissue</text>
<text transform="translate(22.15 1030.1) rotate(-89.97)" text-anchor="middle" textLength="509.39" lengthAdjust="spacingAndGlyphs">Log<tspan font-size="20" dy="7.2">10</tspan><tspan dy="-7.2"> ZIKV RNA copies/µg total RNA</tspan></text>
<text transform="translate(1251.9 476.5) rotate(89.97)" text-anchor="middle" textLength="151.07" lengthAdjust="spacingAndGlyphs">New World</text>
<text transform="translate(1268.4 1624) rotate(89.97)" text-anchor="middle" textLength="140.05" lengthAdjust="spacingAndGlyphs">Old World</text>
</g>
</svg>
</div>
</body></html>
